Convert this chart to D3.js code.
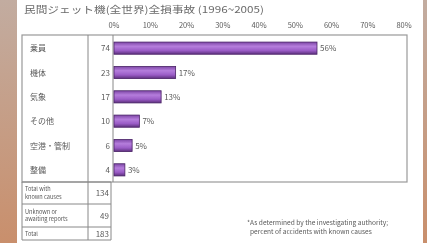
<!DOCTYPE html>
<html>
<head>
<meta charset="utf-8">
<script src="https://cdn.jsdelivr.net/npm/d3@7"></script>
<style>
  html, body { margin: 0; padding: 0; background: #fff; }
  svg { display: block; }
  text { font-family: "Noto Sans CJK JP", "DejaVu Sans", sans-serif; fill: #5a5a5a; }
</style>
</head>
<body>
<svg id="chart" width="427" height="243"></svg>
<script>
// data
const causes = ['乗員', '機体', '気象', 'その他', '空港・管制', '整備'];
const counts = [74, 23, 17, 10, 6, 4];
const shares = [56, 17, 13, 7, 5, 3];
const ticks = [0, 10, 20, 30, 40, 50, 60, 70, 80];
const summaryLabels = [['Total with', 'known causes'], ['Unknown or', 'awaiting reports'], ['Total']];
const summaryCounts = [134, 49, 183];
const footnote = ['*As determined by the investigating authority;', 'percent of accidents with known causes'];

const svg = d3.select('#chart');
const width = 427;
const height = 243;

const defs = svg.append('defs');
const side = defs.append('linearGradient').attr('id', 'side').attr('x1', 0).attr('y1', 0).attr('x2', 0).attr('y2', 1);
side.append('stop').attr('offset', '0%').attr('stop-color', '#c2aca0');
side.append('stop').attr('offset', '100%').attr('stop-color', '#c98f6c');
const barGrad = defs.append('linearGradient').attr('id', 'bar').attr('x1', 0).attr('y1', 0).attr('x2', 0).attr('y2', 1);
barGrad.append('stop').attr('offset', '0%').attr('stop-color', '#7d47a6');
barGrad.append('stop').attr('offset', '35%').attr('stop-color', '#b57ddc');
barGrad.append('stop').attr('offset', '70%').attr('stop-color', '#9a5cc6');
barGrad.append('stop').attr('offset', '100%').attr('stop-color', '#5c2f7c');
defs.append('filter').attr('id', 'soft').append('feGaussianBlur').attr('stdDeviation', 0.45);

// photo frame strips
svg.append('rect').attr('x', 0).attr('y', 0).attr('width', 17).attr('height', height).attr('fill', 'url(#side)');
svg.append('rect').attr('x', 423).attr('y', 0).attr('width', 4).attr('height', height).attr('fill', 'url(#side)');

const g = svg.append('g').attr('filter', 'url(#soft)');

const x = d3.scaleLinear().domain([0, 80]).range([114, 404]);
const y = d3.scaleBand().domain(causes).range([36, 182]).paddingInner(0.5).paddingOuter(0.25);

g.append('text').attr('x', 24).attr('y', 13).attr('font-size', 9.5)
  .attr('textLength', 240).attr('lengthAdjust', 'spacingAndGlyphs')
  .style('fill', '#6a6a6a')
  .text('民間ジェット機(全世界)全損事故 (1996~2005)');

g.append('g')
  .selectAll('text').data(ticks).join('text')
  .attr('x', (d) => x(d)).attr('y', 28).attr('text-anchor', 'middle').attr('font-size', 7.5)
  .text((d) => `${d}%`);

// chart box and table lines
g.append('rect').attr('x', 22).attr('y', 35).attr('width', 385).attr('height', 147)
  .attr('fill', 'none').attr('stroke', '#999').attr('stroke-width', 1.2);
g.append('line').attr('x1', 88).attr('x2', 88).attr('y1', 35).attr('y2', 240).attr('stroke', '#888');
g.append('line').attr('x1', x(0) - 1).attr('x2', x(0) - 1).attr('y1', 35).attr('y2', 182).attr('stroke', '#888');

g.append('g')
  .selectAll('text').data(causes).join('text')
  .attr('x', 30).attr('y', (d) => y(d) + y.bandwidth() / 2 + 3).attr('font-size', 8)
  .text((d) => d);

g.append('g')
  .selectAll('text').data(counts).join('text')
  .attr('x', 110).attr('y', (d, i) => y(causes[i]) + y.bandwidth() / 2 + 3)
  .attr('text-anchor', 'end').attr('font-size', 8)
  .text((d) => d);

g.append('g')
  .selectAll('rect').data(shares).join('rect')
  .attr('x', x(0)).attr('y', (d, i) => y(causes[i]))
  .attr('width', (d) => x(d) - x(0)).attr('height', y.bandwidth())
  .attr('fill', 'url(#bar)').attr('stroke', '#4a2466').attr('stroke-width', 0.8);

g.append('g')
  .selectAll('text').data(shares).join('text')
  .attr('x', (d) => x(d) + 3).attr('y', (d, i) => y(causes[i]) + y.bandwidth() / 2 + 3)
  .attr('font-size', 8)
  .text((d) => `${d}%`);

// summary table under the chart
const rowY = [182, 204, 227, 240];
const rows = g.append('g');
rowY.forEach((ry) => {
  rows.append('line').attr('x1', 22).attr('x2', 111).attr('y1', ry).attr('y2', ry).attr('stroke', '#888');
});
rows.append('line').attr('x1', 22).attr('x2', 22).attr('y1', 182).attr('y2', 240).attr('stroke', '#888');
rows.append('line').attr('x1', 111).attr('x2', 111).attr('y1', 182).attr('y2', 240).attr('stroke', '#888');

summaryLabels.forEach((lines, i) => {
  const top = rowY[i];
  const h = rowY[i + 1] - top;
  lines.forEach((ln, j) => {
    rows.append('text').attr('font-size', 5.6).attr('x', 25)
      .attr('y', top + h / 2 + 2 + (j - (lines.length - 1) / 2) * 7.6)
      .text(ln);
  });
  rows.append('text').attr('x', 109).attr('y', top + h / 2 + 3)
    .attr('text-anchor', 'end').attr('font-size', 8).text(summaryCounts[i]);
});

g.append('g')
  .selectAll('text').data(footnote).join('text')
  .attr('x', (d, i) => 247 + i * 3).attr('y', (d, i) => 225 + i * 8.5)
  .attr('font-size', 6.6)
  .text((d) => d);
</script>
</body>
</html>
